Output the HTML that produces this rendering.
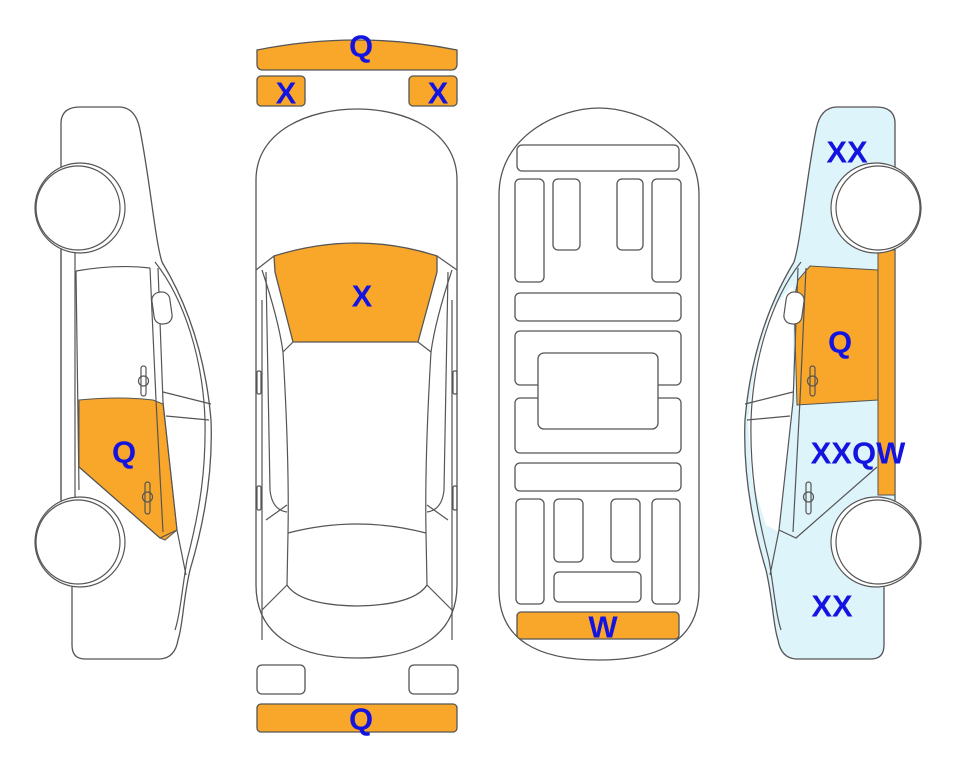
<!DOCTYPE html>
<html><head><meta charset="utf-8"><style>
html,body{margin:0;padding:0;background:#fff;}
svg{display:block}
text{font-family:"Liberation Sans",sans-serif;font-weight:bold;font-size:31px;fill:#1414e0;text-anchor:middle;dominant-baseline:central}
</style></head><body>
<svg width="963" height="768" viewBox="0 0 963 768" xmlns="http://www.w3.org/2000/svg">

<!-- LEFT side car -->
<g>
  <path d="M61,165 L61,122 Q62,107 80,107 L120,107 Q136,108 140,130 C150,180 155,240 162,262 C185,300 205,350 211,420 C213,470 205,520 190,570 C183,600 183,625 178,640 Q175,658 160,659 L85,659 Q72,659 72,645 L72,585 L61,500 Z" fill="#fff" stroke="#555" stroke-width="1.3"/>
  <path d="M79,400 Q120,396 153,400 L163,404 L177,530 L165,540 L160,538 L79,467 Z" fill="#f9a72b" stroke="#555" stroke-width="1"/>
  <g fill="none" stroke="#555" stroke-width="1.2">
    <line x1="61" y1="250" x2="61" y2="500"/>
    <line x1="75" y1="250" x2="75" y2="500"/>
    <path d="M76,271 Q115,264 150,268"/>
    <path d="M155,262 C185,300 203,360 205,420 C206,470 200,510 187,560 C182,590 180,615 175,630"/>
    <path d="M150,268 L156,400 L163,532"/>
    <path d="M158,268 L163,402 L177,530"/>
    <path d="M163,392 L211,404"/>
    <path d="M166,416 L209,420"/>
    <path d="M79,467 L160,538 L177,530"/>
    <path d="M177,530 L186,575"/>
    <path d="M76,271 L79,490"/>
    <rect x="153" y="292" width="18" height="32" rx="8" transform="rotate(-8 162 308)" fill="#fff"/>
    <rect x="141" y="366" width="5" height="30" rx="2.5"/>
    <circle cx="143.5" cy="381" r="5"/>
    <rect x="145" y="482" width="5" height="32" rx="2.5"/>
    <circle cx="147.5" cy="497" r="5"/>
  </g>
  <circle cx="80" cy="208" r="45" fill="#fff" stroke="#555" stroke-width="1.2"/>
  <circle cx="78" cy="208" r="42" fill="#fff" stroke="#555" stroke-width="1.2"/>
  <circle cx="80" cy="542" r="45" fill="#fff" stroke="#555" stroke-width="1.2"/>
  <circle cx="78" cy="542" r="42" fill="#fff" stroke="#555" stroke-width="1.2"/>
</g>

<!-- RIGHT side car (mirrored) -->
<g transform="translate(956,0) scale(-1,1)">
  <path d="M61,165 L61,122 Q62,107 80,107 L120,107 Q136,108 140,130 C150,180 155,240 162,262 C185,300 205,350 211,420 C213,470 205,520 190,570 C183,600 183,625 178,640 Q175,658 160,659 L85,659 Q72,659 72,645 L72,585 L61,500 Z" fill="#def4fb" stroke="#555" stroke-width="1.3"/>
  <path d="M163,285 L185,310 L200,360 L208,420 L204,480 L190,525 L177,532 L163,404 Z" fill="#fff"/>
  <path d="M78,270 L146,266 L158,280 L162,300 L159,405 L78,400 Z" fill="#f9a72b" stroke="#555" stroke-width="1"/>
  <rect x="61" y="250" width="17" height="245" fill="#f9a72b" stroke="#555" stroke-width="1"/>
  <g fill="none" stroke="#555" stroke-width="1.2">
    <path d="M155,262 C185,300 203,360 205,420 C206,470 200,510 187,560 C182,590 180,615 175,630"/>
    <path d="M150,268 L156,400 L163,532"/>
    <path d="M158,268 L163,402 L177,530"/>
    <path d="M163,392 L211,404"/>
    <path d="M166,416 L209,420"/>
    <path d="M79,467 L160,538 L177,530"/>
    <path d="M177,530 L186,575"/>
    <rect x="153" y="292" width="18" height="32" rx="8" transform="rotate(-8 162 308)" fill="#fff"/>
    <rect x="141" y="366" width="5" height="30" rx="2.5"/>
    <circle cx="143.5" cy="381" r="5"/>
    <rect x="145" y="482" width="5" height="32" rx="2.5"/>
    <circle cx="147.5" cy="497" r="5"/>
  </g>
  <circle cx="80" cy="208" r="45" fill="#fff" stroke="#555" stroke-width="1.2"/>
  <circle cx="78" cy="208" r="42" fill="#fff" stroke="#555" stroke-width="1.2"/>
  <circle cx="80" cy="542" r="45" fill="#fff" stroke="#555" stroke-width="1.2"/>
  <circle cx="78" cy="542" r="42" fill="#fff" stroke="#555" stroke-width="1.2"/>
</g>

<!-- top view -->
<g stroke="#555" stroke-width="1.3">
  <path d="M257,50 Q357,30 457,50 L457,64 Q457,70 451,70 L263,70 Q257,70 257,64 Z" fill="#f9a72b"/>
  <rect x="257" y="76" width="48" height="30" rx="4" fill="#f9a72b"/>
  <rect x="409" y="76" width="48" height="30" rx="4" fill="#f9a72b"/>
  <rect x="257" y="665" width="48" height="29" rx="5" fill="#fff"/>
  <rect x="409" y="665" width="49" height="29" rx="5" fill="#fff"/>
  <rect x="257" y="704" width="200" height="28" rx="4" fill="#f9a72b"/>
  <path d="M256,180 C256,130 310,109 357,109 C404,109 457,130 457,180 L457,585 C457,640 410,658 357,658 C304,658 256,640 256,585 Z" fill="#fff"/>
  <path d="M274,256 Q357,230 437,256 L437,272 L418,342 L293,342 L275,272 Z" fill="#f9a72b"/>
  <g fill="none" stroke-width="1.2">
    <path d="M256,270 L274,256 M457,270 L437,256"/>
    <path d="M262,270 C272,300 280,330 283,352 L293,342 M452,270 C442,300 434,330 431,352 L418,342"/>
    <path d="M283,352 C287,420 289,480 288,533 M431,352 C427,420 425,480 426,533"/>
    <path d="M288,533 Q357,515 426,533"/>
    <path d="M288,533 L287,585 Q300,605 357,606 Q414,605 427,585 L426,533"/>
    <path d="M287,585 L262,610 M427,585 L452,610"/>
    <path d="M266,272 L270,490 Q272,510 287,512 M448,272 L444,490 Q442,510 427,512"/>
    <path d="M262,300 L262,640 M452,300 L452,640"/>
    <path d="M266,520 L287,505 M448,520 L427,505"/>
    <rect x="257" y="371" width="4" height="23" rx="1.5"/>
    <rect x="453" y="371" width="4" height="23" rx="1.5"/>
    <rect x="257" y="486" width="4" height="24" rx="1.5"/>
    <rect x="453" y="486" width="4" height="24" rx="1.5"/>
  </g>
</g>

<!-- chassis view -->
<g stroke="#555" stroke-width="1.3" fill="#fff">
  <path d="M499,195 C499,135 560,108 599,108 C638,108 699,135 699,195 L699,590 C699,640 660,660 599,660 C538,660 499,640 499,590 Z"/>
  <rect x="517" y="145" width="162" height="26" rx="5"/>
  <rect x="515" y="179" width="29" height="103" rx="5"/>
  <rect x="553" y="179" width="27" height="71" rx="5"/>
  <rect x="617" y="179" width="26" height="71" rx="5"/>
  <rect x="652" y="179" width="29" height="103" rx="5"/>
  <rect x="515" y="293" width="166" height="28" rx="5"/>
  <rect x="515" y="331" width="166" height="54" rx="5"/>
  <rect x="515" y="398" width="166" height="55" rx="5"/>
  <rect x="538" y="353" width="120" height="76" rx="6"/>
  <rect x="515" y="463" width="166" height="28" rx="5"/>
  <rect x="516" y="499" width="28" height="105" rx="5"/>
  <rect x="554" y="499" width="29" height="63" rx="5"/>
  <rect x="611" y="499" width="29" height="63" rx="5"/>
  <rect x="652" y="499" width="28" height="105" rx="5"/>
  <rect x="554" y="572" width="87" height="30" rx="5"/>
  <rect x="517" y="612" width="162" height="27" rx="4" fill="#f9a72b"/>
</g>

<text x="361" y="46">Q</text>
<text x="286" y="93">X</text>
<text x="438" y="93">X</text>
<text x="362" y="296">X</text>
<text x="361" y="719">Q</text>
<text x="603" y="627">W</text>
<text x="124" y="452">Q</text>
<text x="840" y="342">Q</text>
<text x="847" y="152">XX</text>
<text x="858" y="453">XXQW</text>
<text x="832" y="606">XX</text>
</svg>
</body></html>
